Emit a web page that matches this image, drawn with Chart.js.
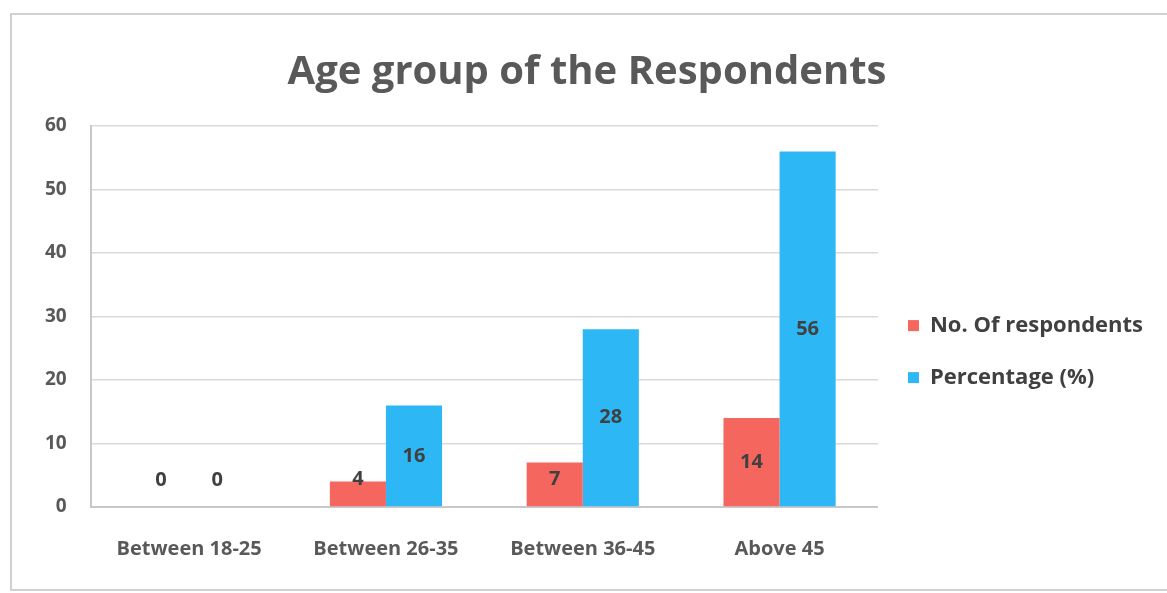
<!DOCTYPE html>
<html>
<head>
<meta charset="utf-8">
<script src="https://cdn.jsdelivr.net/npm/chart.js@4.4.0/dist/chart.umd.min.js"></script>
<style>
  html, body { margin: 0; padding: 0; background: #fff; }
  #wrap { width: 1167px; height: 593px; position: relative; }
</style>
</head>
<body>
<div id="wrap"><canvas id="ageChart" width="1167" height="593"></canvas></div>
<script>
const ageGroups = ['Between 18-25', 'Between 26-35', 'Between 36-45', 'Above 45'];
const respondents = [0, 4, 7, 14];
const percentage = [0, 16, 28, 56];
const yTicks = [0, 10, 20, 30, 40, 50, 60];

const textGray = '#595959';
const fontFamily = '"Open Sans", "Noto Sans", sans-serif';

// light frame round the whole chart
const framePlugin = {
  id: 'frame',
  beforeDraw(chart) {
    const ctx = chart.ctx;
    ctx.save();
    ctx.strokeStyle = '#cfcfd4';
    ctx.lineWidth = 2;
    ctx.strokeRect(11, 14, 1170, 576);
    ctx.restore();
  }
};

// value labels, centred in each bar but kept clear of the axis
const valueLabels = {
  id: 'valueLabels',
  afterDatasetsDraw(chart) {
    const ctx = chart.ctx;
    ctx.save();
    ctx.font = '700 20px ' + fontFamily;
    ctx.fillStyle = '#404040';
    ctx.textAlign = 'center';
    ctx.textBaseline = 'middle';
    chart.data.datasets.forEach((ds, i) => {
      chart.getDatasetMeta(i).data.forEach((bar, j) => {
        const y = Math.min((bar.y + bar.base) / 2, bar.base - 27);
        ctx.fillText(String(ds.data[j]), bar.x, y);
      });
    });
    ctx.restore();
  }
};

new Chart(document.getElementById('ageChart'), {
  type: 'bar',
  data: {
    labels: ageGroups,
    datasets: [
      { label: 'No. Of respondents', data: respondents, backgroundColor: '#F4665E' },
      { label: 'Percentage (%)', data: percentage, backgroundColor: '#2DB7F5' }
    ]
  },
  options: {
    responsive: false,
    animation: false,
    layout: { padding: { left: 21, right: 14, top: 49, bottom: 10 } },
    datasets: { bar: { categoryPercentage: 0.57, barPercentage: 1.0 } },
    scales: {
      x: {
        grid: { display: false },
        border: { display: true, color: '#c8c8cc', width: 2 },
        ticks: { color: textGray, font: { family: fontFamily, size: 20, weight: '700' }, padding: 22 }
      },
      y: {
        min: 0,
        max: 60,
        afterBuildTicks(scale) { scale.ticks = yTicks.map(v => ({ value: v })); },
        grid: { color: '#d9d9dc', lineWidth: 1.5, drawTicks: false },
        border: { display: true, color: '#c8c8cc', width: 2 },
        ticks: { color: textGray, font: { family: fontFamily, size: 19, weight: '700' }, padding: 24 }
      }
    },
    plugins: {
      title: {
        display: true,
        text: 'Age group of the Respondents',
        color: textGray,
        font: { family: fontFamily, size: 40, weight: '700' },
        padding: { top: 0, bottom: 29 }
      },
      legend: {
        position: 'right',
        title: { display: true, text: ' ', font: { size: 1 }, padding: { top: 70, bottom: 0 } },
        labels: {
          color: '#404040',
          font: { family: fontFamily, size: 22, weight: '700' },
          boxWidth: 11,
          boxHeight: 11,
          padding: 30
        }
      },
      tooltip: { enabled: false }
    }
  },
  plugins: [framePlugin, valueLabels]
});
</script>
</body>
</html>
